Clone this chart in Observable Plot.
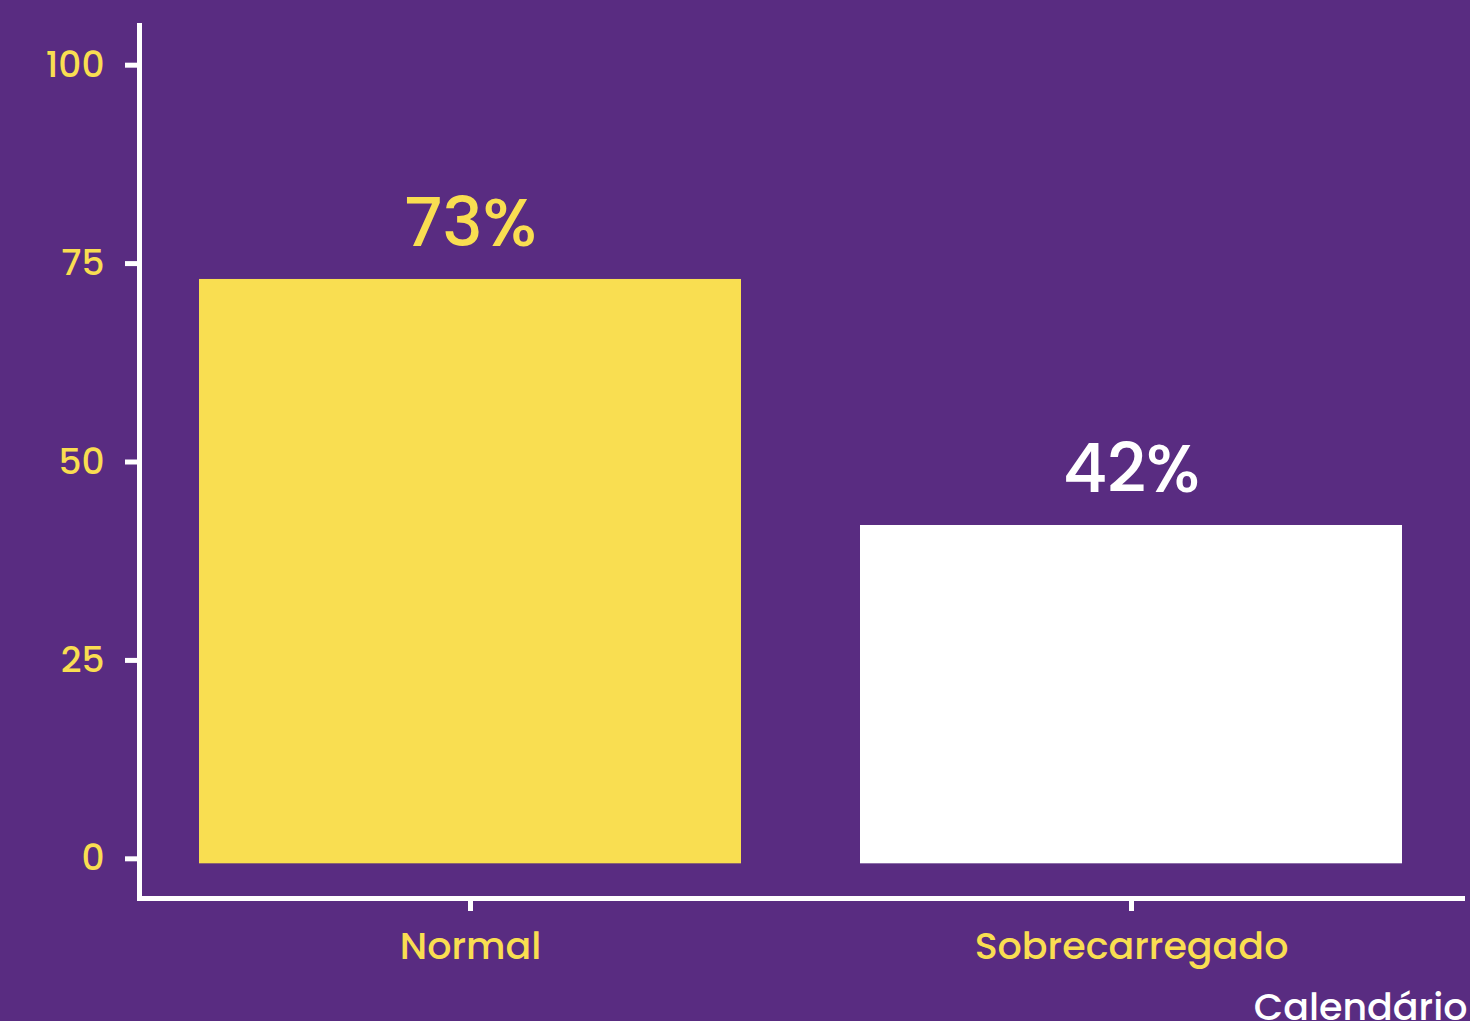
<!DOCTYPE html>
<html>
<head>
<meta charset="utf-8">
<script src="https://cdn.jsdelivr.net/npm/d3@7"></script>
<script src="https://cdn.jsdelivr.net/npm/@observablehq/plot@0.6"></script>
<style>
  html, body { margin: 0; padding: 0; background: #592c81; overflow: hidden; }
</style>
</head>
<body>
<div id="chart"></div>
<script>
const categories = ["Normal", "Sobrecarregado"];
const values = [73, 42];
const valueLabels = ["73%", "42%"];
const barColors = ["#f9de51", "#ffffff"];
const yTicks = [0, 25, 50, 75, 100];
const xLabel = "Calendário";

const data = categories.map((c, i) => ({
  category: c,
  value: values[i],
  label: valueLabels[i],
  color: barColors[i]
}));

const YELLOW = "#f9de51";
const WHITE = "#ffffff";

const chart = Plot.plot({
  width: 1470,
  height: 1021,
  marginLeft: 139,
  marginRight: 8,
  marginTop: 25,
  marginBottom: 123,
  style: {
    background: "#592c81",
    fontFamily: "Poppins, Inter, sans-serif",
    fontWeight: 500,
    overflow: "visible"
  },
  x: {
    type: "band",
    domain: categories,
    paddingInner: 0.18,
    paddingOuter: 0.09,
    axis: null
  },
  y: {
    domain: [-5, 105],
    axis: null
  },
  marks: [
    Plot.barY(data, {
      x: "category",
      y1: 0,
      y2: "value",
      fill: "color",
      insetBottom: -5
    }),
    Plot.text(data, {
      x: "category",
      y: "value",
      text: "label",
      fill: "color",
      fontSize: 68,
      fontWeight: 500,
      lineAnchor: "bottom",
      dy: -33
    }),
    Plot.frame({anchor: "left", stroke: WHITE, strokeWidth: 5, strokeLinecap: "square"}),
    Plot.frame({anchor: "bottom", stroke: WHITE, strokeWidth: 5, strokeLinecap: "square"}),
    Plot.axisY({
      ticks: yTicks,
      tickSize: 14,
      tickPadding: 21,
      stroke: WHITE,
      strokeWidth: 5,
      fill: YELLOW,
      fontSize: 36,
      fontWeight: 500,
      label: null
    }),
    Plot.axisX({
      tickSize: 13,
      tickPadding: 21,
      stroke: WHITE,
      strokeWidth: 5,
      fill: YELLOW,
      fontSize: 38,
      fontWeight: 500,
      label: null
    }),
    Plot.axisX({
      ticks: [],
      tickSize: 0,
      fill: WHITE,
      fontSize: 38,
      fontWeight: 500,
      label: xLabel,
      labelAnchor: "right",
      labelArrow: "none",
      labelOffset: 121
    })
  ]
});

document.getElementById("chart").appendChild(chart);
</script>
</body>
</html>
